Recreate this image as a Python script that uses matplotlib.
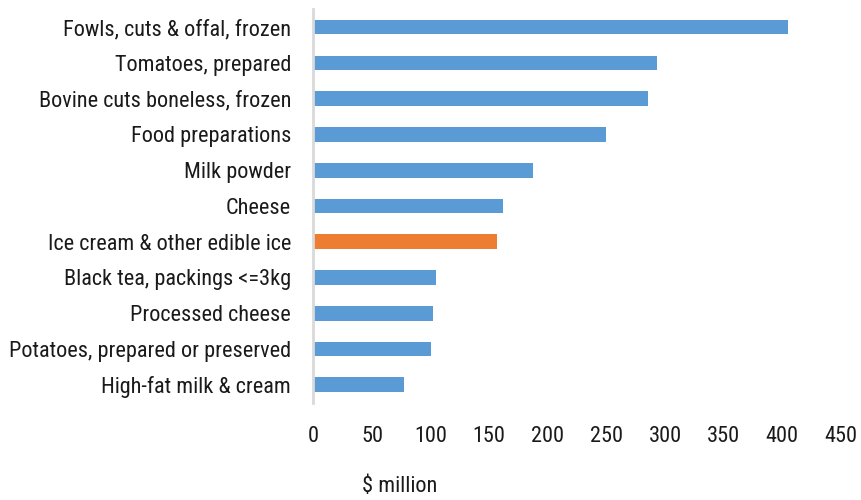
import matplotlib.pyplot as plt
from matplotlib import font_manager

# narrow face for the labels, first one that is installed
names = {f.name for f in font_manager.fontManager.ttflist}
candidates = ['Liberation Sans Narrow', 'Roboto Condensed', 'DejaVu Sans Condensed']
family = next((c for c in candidates if c in names), 'Liberation Sans')
plt.rcParams['font.family'] = [family, 'DejaVu Sans']

products = [
    'Fowls, cuts & offal, frozen',
    'Tomatoes, prepared',
    'Bovine cuts boneless, frozen',
    'Food preparations',
    'Milk powder',
    'Cheese',
    'Ice cream & other edible ice',
    'Black tea, packings <=3kg',
    'Processed cheese',
    'Potatoes, prepared or preserved',
    'High-fat milk & cream',
]
values = [405, 293, 285, 250, 187, 162, 157, 105, 102, 100, 77]
highlight = 'Ice cream & other edible ice'

blue = '#5B9BD5'
orange = '#ED7D31'
colors = [orange if p == highlight else blue for p in products]

fig = plt.figure(figsize=(8.61, 5.0), dpi=100)
ax = fig.add_axes([0.364, 0.1946, 0.6127, 0.787])

ypos = list(range(len(products)))[::-1]
ax.barh(ypos, values, height=0.41, color=colors)

ax.set_xlim(0, 450)
ax.set_ylim(-0.5, len(products) - 0.5)
ax.set_xticks(range(0, 451, 50))
ax.set_yticks(ypos)
ax.set_yticklabels(products)
ax.tick_params(axis='both', length=0, labelsize=16, colors='#1a1a1a')
ax.tick_params(axis='y', pad=16)
ax.tick_params(axis='x', pad=17)

for side in ['top', 'right', 'bottom']:
    ax.spines[side].set_visible(False)
ax.spines['left'].set_color('#d9d9d9')
ax.spines['left'].set_linewidth(2)

fig.text(400 / 861, 1 - 487 / 500, '\\$ million', ha='center', va='center',
         fontsize=16, color='#1a1a1a')

fig.savefig('out.png', dpi=100)
